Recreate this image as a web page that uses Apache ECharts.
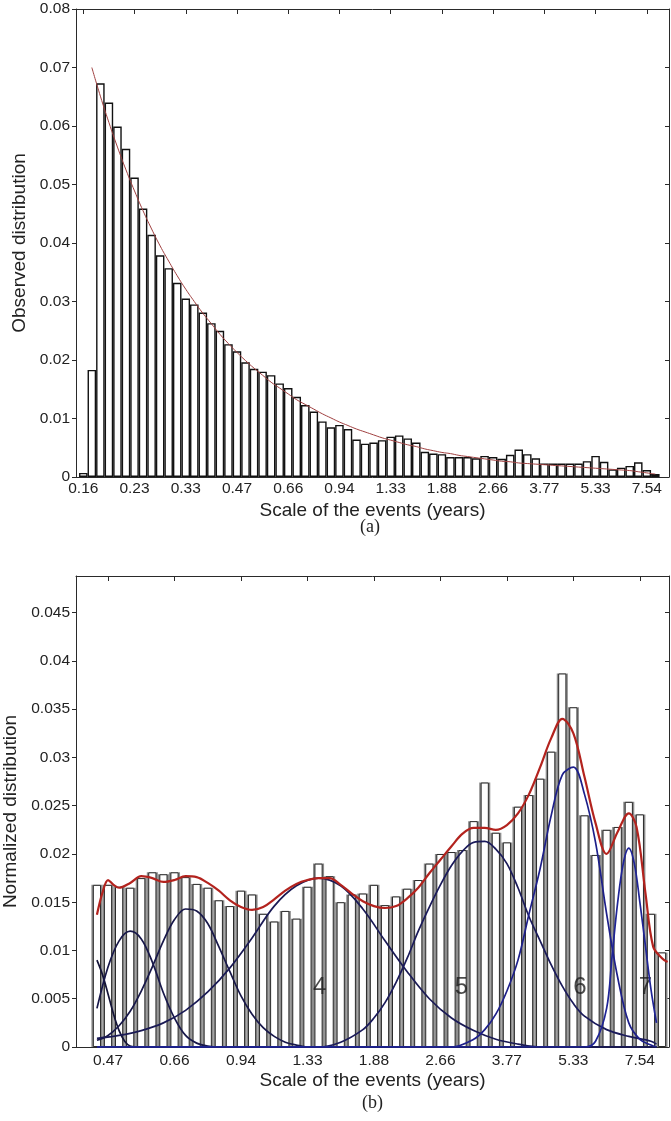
<!DOCTYPE html>
<html><head><meta charset="utf-8">
<script src="https://cdn.jsdelivr.net/npm/echarts@6/dist/echarts.min.js"></script>
<style>html,body{margin:0;padding:0;background:#fff}#c{width:671px;height:1121px}</style>
</head><body><div id="c"></div>
<script>
// ---------- (a) observed distribution ----------
const topTickLabels = ['0.16','0.23','0.33','0.47','0.66','0.94','1.33','1.88','2.66','3.77','5.33','7.54'];
const topTickBins = [0,6,12,18,24,30,36,42,48,54,60,66];
const topBars = [
 0.0007,0.0183,0.0673,0.0640,0.0599,0.0561,0.0512,0.0459,0.0414,0.0379,
 0.0357,0.0332,0.0305,0.0295,0.0281,0.0263,0.0250,0.0227,0.0215,0.0196,
 0.0185,0.0180,0.0174,0.0160,0.0152,0.0137,0.0123,0.0112,0.0095,0.0085,
 0.0089,0.0082,0.0064,0.0057,0.0059,0.0063,0.0069,0.0071,0.0066,0.0059,
 0.0043,0.0040,0.0039,0.0034,0.0034,0.0034,0.0032,0.0036,0.0034,0.0031,
 0.0038,0.0047,0.0039,0.0032,0.0023,0.0023,0.0023,0.0023,0.0023,0.0027,
 0.0036,0.0026,0.0013,0.0016,0.0019,0.0025,0.0012,0.0005];
// fitted curve, bins 1..67
const topFit = [
 0.0700,0.0651,0.0606,0.0564,0.0525,0.0489,0.0455,0.0424,0.0395,0.0369,
 0.0344,0.0321,0.0300,0.0280,0.0262,0.0244,0.0228,0.0213,0.0199,0.0186,
 0.0174,0.0162,0.0152,0.0142,0.0132,0.0124,0.0116,0.0108,0.0101,0.0094,
 0.0088,0.0082,0.0077,0.0072,0.0067,0.0063,0.0059,0.0055,0.0052,0.0048,
 0.0045,0.0042,0.0040,0.0037,0.0035,0.0033,0.0031,0.0029,0.0027,0.0026,
 0.0024,0.0023,0.0022,0.0021,0.0020,0.0019,0.0018,0.0017,0.0016,0.0015,
 0.0014,0.0013,0.0012,0.0011,0.0009,0.0007,0.0005];

// ---------- (b) normalized distribution ----------
const botTickLabels = ['0.47','0.66','0.94','1.33','1.88','2.66','3.77','5.33','7.54'];
const botTickBins = [1,7,13,19,25,31,37,43,49];
const botBars = [
 0.0168,0.0168,0.0166,0.0165,0.0175,0.0181,0.0179,0.0181,0.0176,0.0169,
 0.0165,0.0152,0.0146,0.0162,0.0158,0.0138,0.0130,0.0141,0.0133,0.0166,
 0.0190,0.0177,0.0150,0.0158,0.0159,0.0168,0.0147,0.0156,0.0164,0.0173,
 0.0190,0.0200,0.0202,0.0204,0.0234,0.0274,0.0222,0.0212,0.0249,0.0261,
 0.0278,0.0306,0.0387,0.0352,0.0240,0.0199,0.0225,0.0228,0.0254,0.0241,
 0.0138,0.0098];
const botSum = [[0,0.0137],[0.5,0.0160],[1,0.0173],[1.5,0.0168],[2,0.0165],[3,0.0170],[4,0.0177],[5,0.0175],
 [6,0.0171],[7,0.0173],[8,0.0177],[9,0.0176],[10,0.0170],[11,0.0162],[12,0.0152],[13,0.0145],[14,0.0142],
 [15,0.0145],[16,0.0153],[17,0.0162],[18,0.0169],[19,0.0173],[20,0.0175],[21,0.0175],[22,0.0168],[23,0.0159],
 [24,0.0151],[25,0.0146],[26,0.0144],[27,0.0146],[28,0.0154],[29,0.0165],[30,0.0180],[31,0.0194],[32,0.0208],
 [33,0.0221],[34,0.0227],[35,0.0227],[36,0.0225],[37,0.0230],[38,0.0242],[39,0.0262],[40,0.0290],[41,0.0320],
 [42,0.0340],[43,0.0325],[44,0.0280],[45,0.0232],[46,0.0200],[47,0.0223],[48,0.0242],[48.7,0.0228],
 [49.5,0.0160],[50.2,0.0104],[51,0.0092],[51.5,0.0088]];
const comp1 = [[0,0.0090],[0.5,0.0075],[1,0.0055],[1.5,0.0034],[2,0.0017],[2.5,0.0006],[3,0.0001],[4,0],[50.5,0]];
const comp2 = [[0,0.0040],[1,0.0083],[2,0.0110],[3,0.0120],[4,0.0112],[5,0.0088],[6,0.0056],[7,0.0030],
 [8,0.0012],[9,0.0004],[10,0.0001],[11,0],[50.5,0]];
const comp3 = [[0,0.0007],[1,0.0012],[2,0.0022],[3,0.0037],[4,0.0058],[5,0.0083],[6,0.0110],[7,0.0132],
 [8,0.0143],[9,0.0141],[10,0.0128],[11,0.0104],[12,0.0078],[13,0.0053],[14,0.0034],[15,0.0020],[16,0.0011],
 [17,0.0005],[18,0.0002],[19,0],[50.5,0]];
const comp4 = [[0,0.0009],[2,0.0012],[4,0.0017],[6,0.0025],[8,0.0038],[10,0.0057],[12,0.0082],[14,0.0113],
 [16,0.0146],[18,0.0167],[20,0.0175],[22,0.0167],[24,0.0143],[26,0.0110],[28,0.0078],[30,0.0050],[32,0.0030],
 [34,0.0017],[36,0.0008],[38,0.0003],[40,0],[50.5,0]];
const comp5 = [[0,0],[20,0],[22,0.0005],[24,0.0018],[25,0.0030],[26,0.0046],[27,0.0067],[28,0.0092],[29,0.0120],
 [30,0.0145],[31,0.0168],[32,0.0188],[33,0.0203],[34,0.0212],[35,0.0213],[36,0.0205],[37,0.0190],[38,0.0165],
 [39,0.0135],[40,0.0110],[41,0.0085],[42,0.0063],[43,0.0045],[44,0.0032],[46,0.0018],[48,0.0011],[50,0.0006],[50.5,0.0003]];
const comp6 = [[0,0],[32,0],[34,0.0008],[35,0.0018],[36,0.0034],[37,0.0058],[38,0.0090],[39,0.0138],[40,0.0185],
 [41,0.0240],[42,0.0282],[43,0.0290],[44,0.0262],[45,0.0212],[46,0.0138],[47,0.0072],[48,0.0025],[49,0.0008],
 [50,0.0002],[50.5,0]];
const comp7 = [[0,0],[44,0],[45,0.0006],[46,0.0040],[46.5,0.0095],[47,0.0150],[47.5,0.0190],[48,0.0206],
 [48.5,0.0190],[49,0.0150],[49.5,0.0105],[50,0.0060],[50.5,0.0025]];
const compNames = ['4','5','6','7'];
const compNamePos = [[20.1,0.0062],[32.9,0.0062],[43.6,0.0062],[49.5,0.0062]];

const SANS = 'Liberation Sans, Arial, sans-serif';
const AX = '#2a2a2a';
const yFmt = v => (v === 0 ? '0' : String(parseFloat(v.toFixed(4))));

function xAxes(grid, min, max, bins, labels, labelMargin) {
  return [
    {gridIndex: grid, type: 'value', min: min, max: max, position: 'bottom',
     axisLine: {show: true, onZero: false, lineStyle: {color: AX, width: 1}},
     axisTick: {show: false}, splitLine: {show: false},
     axisLabel: {customValues: bins, formatter: v => labels[bins.indexOf(v)] || '',
       fontFamily: SANS, fontSize: 15.5, color: '#222', margin: labelMargin},
     name: 'Scale of the events (years)', nameLocation: 'middle', nameGap: 24,
     nameTextStyle: {fontFamily: SANS, fontSize: 19, color: '#222'}},
    {gridIndex: grid, type: 'value', min: min, max: max, position: 'top',
     axisLine: {show: true, onZero: false, lineStyle: {color: AX, width: 1}},
     axisTick: {show: true, inside: true, length: 5, customValues: bins, lineStyle: {color: AX}},
     axisLabel: {show: false}, splitLine: {show: false}}
  ];
}
function yAxes(grid, max, interval, name, gap) {
  return [
    {gridIndex: grid, type: 'value', min: 0, max: max, interval: interval, position: 'left',
     axisLine: {show: true, onZero: false, lineStyle: {color: AX, width: 1}},
     axisTick: {show: true, inside: false, length: 4, lineStyle: {color: AX}},
     splitLine: {show: false},
     axisLabel: {formatter: yFmt, fontFamily: SANS, fontSize: 15.5, color: '#222', margin: 6, showMaxLabel: max === 0.08},
     name: name, nameLocation: 'middle', nameGap: gap, nameRotate: 90,
     nameTextStyle: {fontFamily: SANS, fontSize: 19, color: '#222'}},
    {gridIndex: grid, type: 'value', min: 0, max: max, interval: interval, position: 'right',
     axisLine: {show: true, onZero: false, lineStyle: {color: AX, width: 1}},
     axisTick: {show: true, inside: true, length: 4, lineStyle: {color: AX}},
     axisLabel: {show: false}, splitLine: {show: false}}
  ];
}

const topX = xAxes(0, -0.855, 68.6, topTickBins, topTickLabels, 4);
const botX = xAxes(1, -1.89, 51.63, botTickBins, botTickLabels, 6);
const hiddenX = {gridIndex: 1, type: 'value', min: -1.89, max: 51.63, show: false};

const compColors = ['#141438','#18184a','#18184a','#1a1a55','#1a1a5a','#1d1f8a','#1f2496'];
const comps = [comp1, comp2, comp3, comp4, comp5, comp6, comp7];

const series = [
  {type: 'bar', xAxisIndex: 0, yAxisIndex: 0, data: topBars.map((v, i) => [i, v]),
   barWidth: '100%', itemStyle: {color: '#fff', borderColor: '#111', borderWidth: 1.4}},
  {type: 'line', xAxisIndex: 0, yAxisIndex: 0, data: topFit.map((v, i) => [i + 1, v]),
   showSymbol: false, smooth: true, lineStyle: {color: '#a04040', width: 1}},
  {type: 'bar', xAxisIndex: 4, yAxisIndex: 2, data: botBars.map((v, i) => [i, v]),
   barWidth: '100%', itemStyle: {color: '#8d8d8d'}},
  {type: 'bar', xAxisIndex: 2, yAxisIndex: 2, data: botBars.map((v, i) => [i, v]),
   barWidth: '74%', itemStyle: {color: '#fff', borderColor: '#2a2a2a', borderWidth: 1}}
];
comps.forEach((c, k) => series.push({type: 'line', xAxisIndex: 2, yAxisIndex: 2, data: c,
  showSymbol: false, smooth: 0.35, lineStyle: {color: compColors[k], width: 1.7}}));
series.push({type: 'line', xAxisIndex: 2, yAxisIndex: 2, data: botSum, showSymbol: false, smooth: 0.35,
  lineStyle: {color: '#b3231e', width: 2.2}});
series.push({type: 'scatter', xAxisIndex: 2, yAxisIndex: 2, symbolSize: 0,
  data: compNamePos.map((p, i) => ({value: p, name: compNames[i]})),
  label: {show: true, position: 'inside', formatter: p => p.name, fontFamily: SANS, fontSize: 24,
    color: '#1e1e1e', textBorderWidth: 0}});

const chart = echarts.init(document.getElementById('c'), null, {renderer: 'canvas'});
chart.setOption({
  animation: false,
  backgroundColor: '#fff',
  grid: [
    {left: 76, top: 9, width: 593, height: 468, containLabel: false, outerBoundsMode: 'none'},
    {left: 76, top: 576, width: 593, height: 471, containLabel: false, outerBoundsMode: 'none'}
  ],
  xAxis: [topX[0], topX[1], botX[0], botX[1], hiddenX],
  yAxis: [...yAxes(0, 0.08, 0.01, 'Observed distribution', 42), ...yAxes(1, 0.0488, 0.005, 'Normalized distribution', 50)],
  series: series,
  graphic: [
    {type: 'text', left: 360, top: 518, style: {text: '(a)', font: '18px "Liberation Serif", serif', fill: '#222'}},
    {type: 'text', left: 362, top: 1094, style: {text: '(b)', font: '18px "Liberation Serif", serif', fill: '#222'}}
  ]
});
</script></body></html>
